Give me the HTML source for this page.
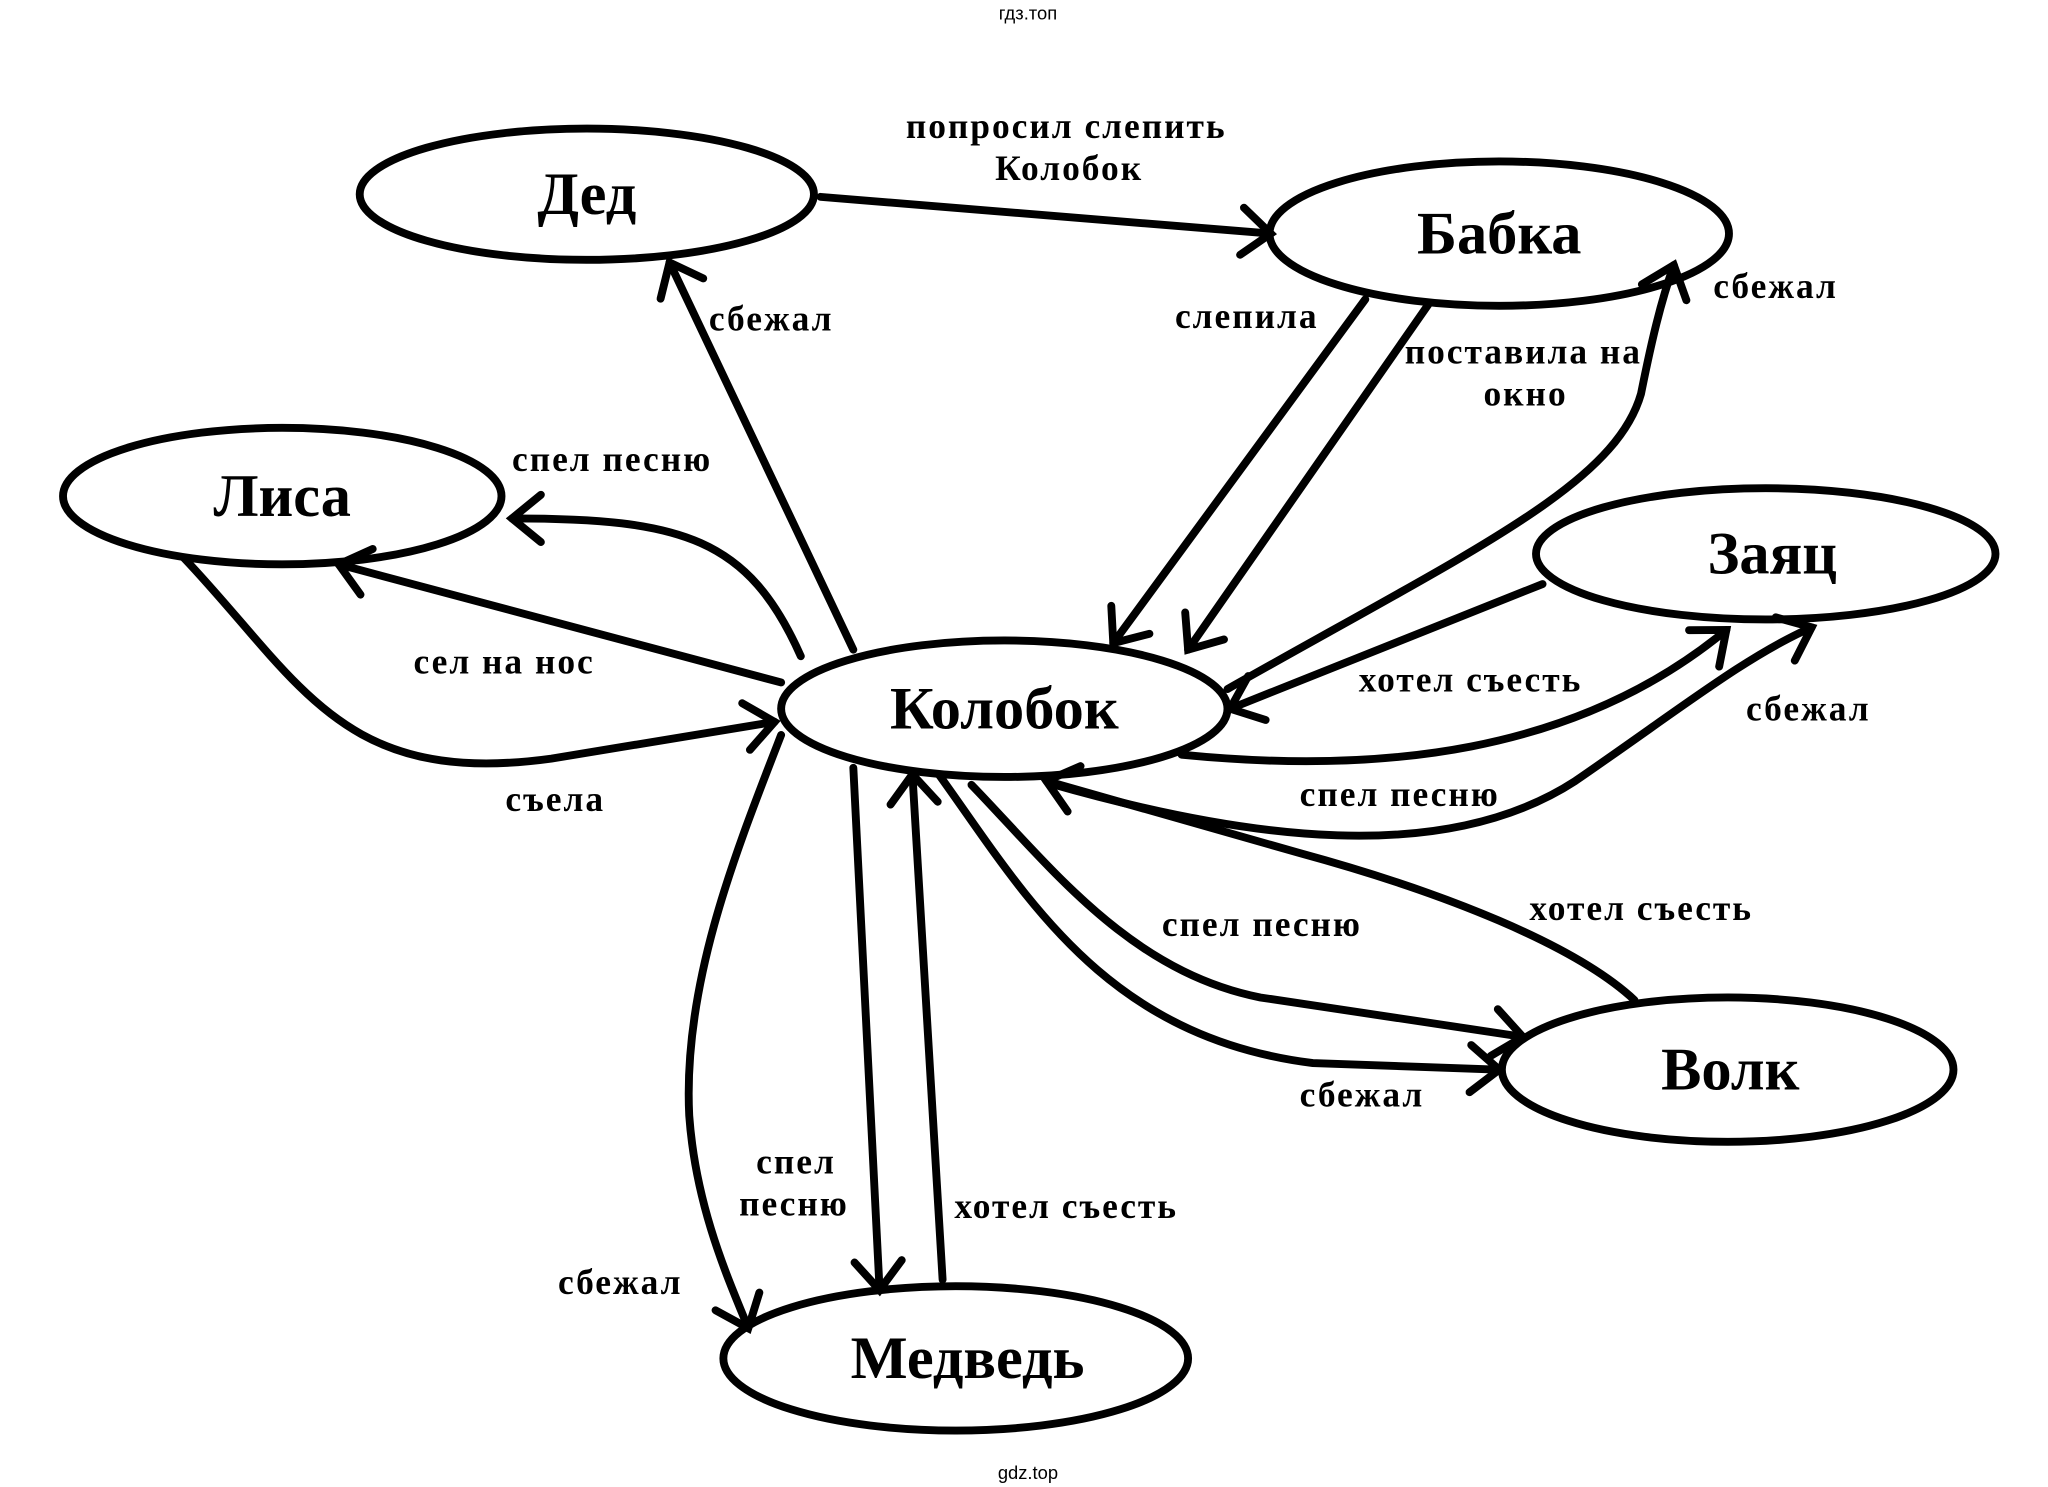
<!DOCTYPE html>
<html><head><meta charset="utf-8">
<style>
html,body{margin:0;padding:0;background:#fff;}
svg{display:block;}
.n{font-family:"Liberation Serif",serif;font-weight:bold;font-size:46px;text-anchor:middle;}
.l{font-family:"Liberation Serif",serif;font-weight:bold;font-size:27px;letter-spacing:1.5px;}
.w{font-family:"Liberation Sans",sans-serif;font-size:14px;text-anchor:middle;}
</style></head><body>
<svg width="2048" height="1487" viewBox="0 0 1560 1133" preserveAspectRatio="none" xmlns="http://www.w3.org/2000/svg">
<defs>
<marker id="a" markerWidth="60" markerHeight="60" refX="30" refY="30" orient="auto" markerUnits="userSpaceOnUse">
<polyline points="8,12 30,30 8,48" fill="none" stroke="#000" stroke-width="6" stroke-linecap="round"/>
</marker>
</defs>
<rect width="1560" height="1133" fill="#fff"/>
<text class="w" x="783" y="15">гдз.топ</text>
<text class="w" x="783" y="1127">gdz.top</text>
<g fill="none" stroke="#000" stroke-width="6" stroke-linecap="round">
<ellipse cx="447" cy="148" rx="173" ry="50"/>
<ellipse cx="1142" cy="178" rx="175" ry="55"/>
<ellipse cx="215" cy="378" rx="167" ry="52"/>
<ellipse cx="1345" cy="422" rx="175" ry="50"/>
<ellipse cx="765" cy="540" rx="170" ry="52"/>
<ellipse cx="1316" cy="815" rx="172" ry="55"/>
<ellipse cx="728" cy="1035" rx="177" ry="55"/>
<g marker-end="url(#a)">
<path d="M625,150 L968,178"/>
<path d="M650,495 L510,200"/>
<path d="M1040,228 L848,490"/>
<path d="M1088,232 L905,495"/>
<path d="M935,525 C1120,420 1230,370 1250,300 C1258,260 1265,230 1275,202"/>
<path d="M1175,445 L937,540"/>
<path d="M900,575 C1050,590 1200,575 1315,480"/>
<path d="M800,597 C950,640 1100,660 1200,595 C1280,540 1330,500 1380,478"/>
<path d="M1245,762 C1200,720 1100,680 990,650 L797,595"/>
<path d="M740,598 C800,660 860,740 960,760 L1160,790"/>
<path d="M715,590 C780,680 840,790 1000,810 L1142,815"/>
<path d="M650,585 L670,983"/>
<path d="M718,975 L695,590"/>
<path d="M595,560 C560,650 520,750 525,850 C530,920 555,975 570,1012"/>
<path d="M610,500 C570,410 520,395 390,395"/>
<path d="M595,520 L258,430"/>
<path d="M140,425 C230,520 260,600 420,578 L590,550"/>
</g>
</g>
<text class="n" x="447" y="163">Дед</text>
<text class="n" x="1142" y="193">Бабка</text>
<text class="n" x="215" y="393">Лиса</text>
<text class="n" x="1350" y="437">Заяц</text>
<text class="n" x="765" y="555">Колобок</text>
<text class="n" x="1318" y="830">Волк</text>
<text class="n" x="737" y="1050">Медведь</text>
<text class="l" x="690" y="105">попросил слепить</text>
<text class="l" x="758" y="137">Колобок</text>
<text class="l" x="540" y="252">сбежал</text>
<text class="l" x="895" y="250">слепила</text>
<text class="l" x="1070" y="277">поставила на</text>
<text class="l" x="1130" y="309">окно</text>
<text class="l" x="1305" y="227">сбежал</text>
<text class="l" x="390" y="359">спел песню</text>
<text class="l" x="315" y="513">сел на нос</text>
<text class="l" x="385" y="618">съела</text>
<text class="l" x="1035" y="527">хотел съесть</text>
<text class="l" x="1330" y="549">сбежал</text>
<text class="l" x="990" y="614">спел песню</text>
<text class="l" x="1165" y="701">хотел съесть</text>
<text class="l" x="885" y="713">спел песню</text>
<text class="l" x="990" y="843">сбежал</text>
<text class="l" x="576" y="894">спел</text>
<text class="l" x="563" y="926">песню</text>
<text class="l" x="727" y="928">хотел съесть</text>
<text class="l" x="425" y="986">сбежал</text>
</svg>
</body></html>
